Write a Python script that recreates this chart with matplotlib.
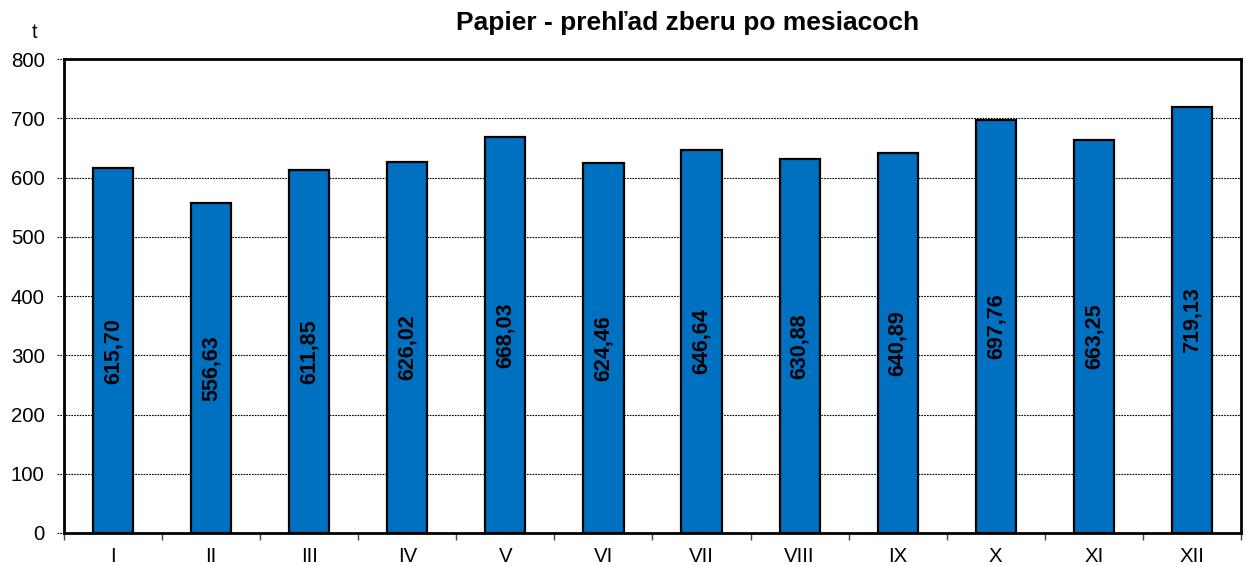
import matplotlib
matplotlib.use("Agg")
import matplotlib.pyplot as plt
from matplotlib.ticker import FixedLocator, NullFormatter

plt.rcParams['font.family'] = ['Liberation Sans', 'DejaVu Sans']

months = ["I", "II", "III", "IV", "V", "VI", "VII", "VIII", "IX", "X", "XI", "XII"]
values = [615.70, 556.63, 611.85, 626.02, 668.03, 624.46, 646.64, 630.88, 640.89, 697.76, 663.25, 719.13]
title = "Papier - prehľad zberu po mesiacoch"
unit = "t"
yticks = [0, 100, 200, 300, 400, 500, 600, 700, 800]

bar_color = "#0070C0"

fig = plt.figure(figsize=(12.46, 5.66), dpi=100)
ax = fig.add_axes([64/1246, 1 - 533/566, (1241-64)/1246, (533-59)/566])

x = list(range(len(months)))
bars = ax.bar(x, values, width=0.41, color=bar_color, edgecolor="black", linewidth=1.6, zorder=3)

for xi, v in zip(x, values):
    ax.text(xi, v / 2, f"{v:.2f}".replace(".", ","), rotation=90, ha="center", va="center",
            fontsize=15.5, fontweight="bold", color="black", zorder=4,
            bbox=dict(facecolor=bar_color, edgecolor="none", pad=1.5))

ax.set_xlim(-0.5, len(months) - 0.5)
ax.set_ylim(0, 800)
ax.set_yticks(yticks)
ax.set_yticklabels([str(t) for t in yticks], fontsize=14.7)
ax.set_xticks(x)
ax.set_xticklabels(months, fontsize=14.7)
ax.tick_params(axis="x", which="major", length=0, pad=10)
ax.xaxis.set_minor_locator(FixedLocator([i - 0.5 for i in range(len(months) + 1)]))
ax.xaxis.set_minor_formatter(NullFormatter())
ax.tick_params(axis="x", which="minor", length=5, width=1, color="#444444", direction="out")
ax.tick_params(axis="y", length=0, pad=14)

# dotted gridlines that extend a little to the left of the axis (like tick marks)
ax.hlines(yticks, -0.006, 1, transform=ax.get_yaxis_transform(), clip_on=False,
          colors="black", linestyles=(0, (1.5, 1)), linewidth=0.8, zorder=0)
for s in ax.spines.values():
    s.set_linewidth(2)
    s.set_color("black")
    s.set_zorder(5)

fig.text(687.5/1246, 1 - 23/566, title, ha="center", va="center", fontsize=19, fontweight="bold")
fig.text(35/1246, 1 - 33/566, unit, ha="center", va="center", fontsize=14.7)

fig.savefig("out.png", dpi=100)
